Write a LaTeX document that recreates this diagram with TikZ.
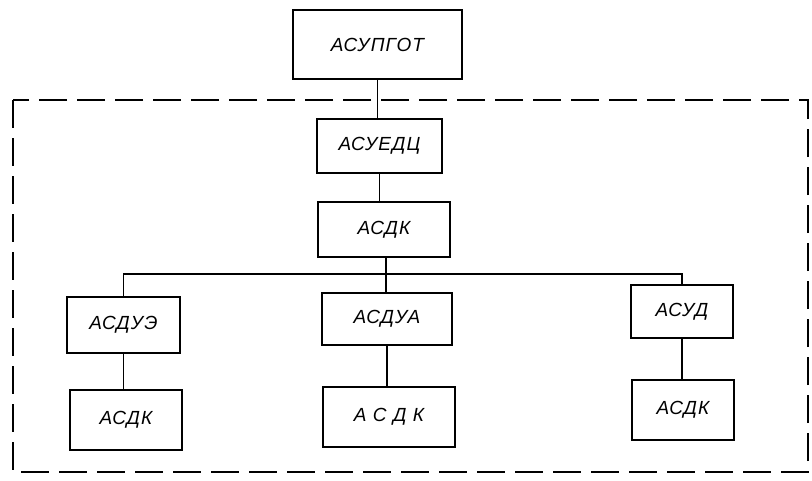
\documentclass[tikz,border=0pt]{standalone}
\usepackage{fontspec}
\setmainfont{Liberation Sans}
\usepackage{tikz}
\usetikzlibrary{positioning}

\begin{document}
\begin{tikzpicture}[x=1pt,y=-1pt,
  unit/.style={draw,line width=1.5pt,inner sep=0pt,font=\fontsize{19}{22}\selectfont\itshape\addfontfeatures{LetterSpace=6}},
  core/.style={unit,line width=2.5pt},
  link/.style={line width=1.1pt}]
\useasboundingbox (0,0) rectangle (812,480);
\draw[line width=1.2pt,dash pattern=on 28pt off 10pt] (13,100) rectangle (808,472);
\node[core,minimum width=169pt,minimum height=69pt] (top) at (377.5,44.5) {АСУПГОТ};
\node[unit,minimum width=125pt,minimum height=54pt] (edc) at (379.5,146) {АСУЕДЦ};
\node[core,minimum width=132pt,minimum height=55pt] (dk) at (384,229.5) {АСДК};
\node[unit,minimum width=113pt,minimum height=56pt] (due) at (123.5,325) {АСДУЭ};
\node[core,minimum width=112pt,minimum height=60pt] (dkA) at (126,420) {АСДК};
\node[unit,minimum width=130pt,minimum height=52pt] (dua) at (387,319) {АСДУА};
\node[core,minimum width=132pt,minimum height=60pt] (dkB) at (389,417) {А С Д К};
\node[unit,minimum width=102pt,minimum height=53pt] (usd) at (682,311.5) {АСУД};
\node[core,minimum width=102pt,minimum height=60pt] (dkC) at (683,410) {АСДК};
\coordinate (bus) at (386,274);
\draw[link] (top.south) -- (top.south |- edc.north);
\draw[link] (edc.south) -- (edc.south |- dk.north);
\draw[link] (bus |- dk.south) -- (bus |- dua.north);
\draw[link] (due.north) |- (bus) -| (usd.north);
\draw[link] (due.south) -- (due.south |- dkA.north);
\draw[link] (dua.south) -- (dua.south |- dkB.north);
\draw[link] (usd.south) -- (usd.south |- dkC.north);
\end{tikzpicture}
\end{document}
